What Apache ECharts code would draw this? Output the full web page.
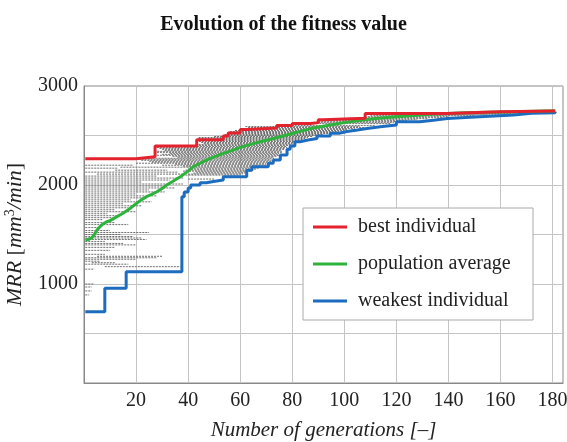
<!DOCTYPE html>
<html>
<head>
<meta charset="utf-8">
<script src="https://cdn.jsdelivr.net/npm/echarts@6/dist/echarts.min.js"></script>
<style>html,body{margin:0;padding:0;background:#fff}#c{width:567px;height:442px}</style>
</head>
<body>
<div id="c"></div>
<script>
const titleText = 'Evolution of the fitness value';
const seriesNames = ['best individual', 'population average', 'weakest individual'];
const xTicks = [20, 40, 60, 80, 100, 120, 140, 160, 180];
const yTicks = [1000, 2000, 3000];

// best individual (step changes: [generation, MRR])
const bestIndividual = [[0.5,2265],[20,2285],[27.3,2395],[43.3,2458],[53.5,2495],[55.4,2525],[60,2560],[63,2575],[74,2600],[80,2622],[87,2630],[90,2660],[92,2675],[108,2722],[139.5,2740],[160,2748],[181,2752]];
// population average
const populationAverage = [[0.5,1444],[2,1452],[3,1465],[4,1500],[5,1545],[6,1575],[7,1600],[8.7,1629],[10,1640],[12,1670],[15,1714],[17,1750],[19,1790],[20.2,1815],[22,1850],[24,1882],[26,1905],[28,1932],[30,1965],[31.8,2000],[34,2035],[37,2084],[40,2140],[42,2185],[45,2225],[47,2252],[50,2285],[53.6,2320],[57,2350],[60,2380],[64,2410],[67.7,2437],[72,2465],[75.4,2488],[80,2520],[83,2542],[88,2575],[94.6,2606],[100,2630],[107,2657],[113,2675],[120,2690],[127,2703],[133,2714],[140,2722],[146,2730],[155,2735],[165,2740],[173,2745],[181,2750]];
// weakest individual
const weakestIndividual = [[0.5,720],[8,956],[16.2,1124],[37.6,1882],[38.5,1930],[40,1970],[41,2000],[44.6,2023],[47,2035],[49.7,2050],[53.5,2084],[62.5,2150],[64.5,2185],[70.8,2220],[72.7,2252],[75.4,2303],[78,2360],[79.2,2395],[81,2437],[83,2454],[86,2470],[89.5,2495],[94.6,2522],[98,2540],[101,2555],[105,2570],[108.7,2589],[113.8,2606],[120,2640],[129,2657],[135,2672],[139.5,2690],[152,2707],[165,2724],[172,2730],[181,2740]];

// individuals of the population: [MRR, first generation, last generation]
const populationSegments = [
  [2745,160,181],[2738,150,178],[2730,140,172],[2722,130,166],[2715,115,160],[2708,112,155],[2700,110,150],[2690,109,140],
  [2680,108,138],[2670,100,132],[2660,92,128],[2650,91,124],[2640,90,120],[2630,84,119],[2620,80,118],
  [2600,74,112],[2590,62,106],[2580,63,108],[2570,61,104],[2560,60,101],[2550,58,100],[2540,56,98],[2530,55,96],
  [2520,55,94],[2510,54,92],[2500,54,90],[2490,50,88],[2480,44,86],[2470,44,85],[2460,44,84],[2450,44,83],
  [2440,43,81],[2430,45,81],[2420,46,80],[2410,44,80],[2400,43,79],[2390,40,78],[2380,28,78],[2370,29,77],
  [2360,30,77],[2350,31,76],[2340,27,76],[2330,28,76],[2320,33,75],[2310,30,75],[2300,28,75],[2290,34,74],
  [2280,36,73],[2270,24,73],[2260,21,72],[2250,22,72],[2240,25,72],[2230,26,71],[2220,20,70],[2210,35,70],
  [2200,30,70],[2200,0.5,19],[2190,38,69],[2180,14,68],[2170,0.5,13],[2170,41,67],[2160,40,66],[2150,12,32],
  [2150,39,65],[2140,38,64],[2130,0.5,36],[2130,43,63],[2120,42,62],[2110,5,38],[2110,40,61],[2100,39,60],
  [2090,0.5,28],[2070,0.5,38],[2060,40,50],[2050,0.5,33],[2030,0.5,22],[2010,0.5,38],[1990,0.5,30],[1970,0.5,35],
  [1950,0.5,25],[1930,0.5,31],[1910,0.5,20],[1890,0.5,28],[1870,0.5,24],[1850,0.5,18],[1830,0.5,26],[1810,0.5,15],
  [1790,0.5,22],[1770,0.5,17],[1750,0.5,12],[1730,0.5,20],[1710,0.5,9],[1690,0.5,14],[1670,0.5,11],[1650,0.5,7],
  [1620,0.5,12],[1600,0.5,17],[1570,0.5,6],[1540,0.5,10],[1520,0.5,25],[1500,0.5,14],[1480,0.5,19],[1465,0.5,22],
  [1450,3,24],[1430,0.5,8],[1410,0.5,15],[1395,0.5,20],[1370,0.5,12],[1340,0.5,10],[1300,0.5,8],[1280,5,30],
  [1265,0.5,28],[1250,0.5,20],[1230,0.5,6],[1215,3,12],[1200,0.5,17],[1175,8,37],[1150,0.5,4],
  [1000,0.5,4],[970,0.5,3],[930,0.5,3],[890,0.5,2]
];

const segData = [];
populationSegments.forEach(s => { segData.push([s[1], s[0]], [s[2], s[0]], ['-', '-']); });

const serif = 'Liberation Serif';
const lineIcon = 'path://M0,0L34,0L34,3L0,3Z';
const chart = echarts.init(document.getElementById('c'), null, {renderer: 'canvas'});
chart.setOption({
  animation: false,
  backgroundColor: '#fff',
  title: {
    text: titleText, left: 'center', top: 10,
    textStyle: {fontFamily: serif, fontSize: 20, fontWeight: 'bold', color: '#111'}
  },
  grid: {left: 84, top: 86, right: 4, bottom: 59, show: true, borderColor: '#888', borderWidth: 1,
         backgroundColor: 'transparent', outerBoundsMode: 'none', containLabel: false},
  legend: {
    orient: 'vertical', left: 303, top: 208,
    padding: [8, 10, 8, 10],
    backgroundColor: '#fff', borderColor: '#aaa', borderWidth: 1, borderRadius: 0,
    itemWidth: 34, itemHeight: 14, itemGap: 15,
    data: [
      {name: seriesNames[0], icon: lineIcon},
      {name: seriesNames[1], icon: lineIcon},
      {name: seriesNames[2], icon: lineIcon}
    ],
    textStyle: {fontFamily: serif, fontSize: 20, color: '#222', lineHeight: 22, width: 165, padding: [0, 0, 0, 6]}
  },
  xAxis: {
    type: 'value', min: 0, max: 184, interval: 20,
    name: 'Number of generations [–]',
    nameLocation: 'middle', nameGap: 37,
    nameTextStyle: {fontFamily: serif, fontSize: 21, fontStyle: 'italic', color: '#222'},
    axisLine: {show: true, lineStyle: {color: '#888'}},
    axisTick: {show: false},
    axisLabel: {
      fontFamily: serif, fontSize: 20, color: '#222', margin: 8,
      formatter: v => xTicks.indexOf(v) >= 0 ? String(v) : ''
    },
    splitLine: {show: true, lineStyle: {color: '#c4c4c4', width: 1}}
  },
  yAxis: {
    type: 'value', min: 0, max: 3000, interval: 500,
    name: '{i|MRR} [{i|mm}{s|3}{i|/min}]',
    nameLocation: 'middle', nameGap: 57, nameRotate: 90,
    nameTextStyle: {
      fontFamily: serif, fontSize: 22, color: '#222',
      rich: {
        i: {fontFamily: serif, fontSize: 22, fontStyle: 'italic', color: '#222'},
        s: {fontFamily: serif, fontSize: 14, color: '#222', padding: [0, 0, 10, 0]}
      }
    },
    axisLine: {show: true, lineStyle: {color: '#888'}},
    axisTick: {show: false},
    axisLabel: {
      fontFamily: serif, fontSize: 20, color: '#222', margin: 6,
      formatter: v => yTicks.indexOf(v) >= 0 ? String(v) : ''
    },
    splitLine: {show: true, lineStyle: {color: '#c4c4c4', width: 1}}
  },
  series: [
    {
      name: 'population', type: 'line', data: segData, symbol: 'none', connectNulls: false,
      lineStyle: {color: '#6e6e6e', width: 1, type: [2, 1]}, silent: true, z: 1
    },
    {
      name: seriesNames[2], type: 'line', step: 'end', data: weakestIndividual, symbol: 'none',
      color: '#1c6cbf', lineStyle: {color: '#1c6cbf', width: 3}, z: 3
    },
    {
      name: seriesNames[1], type: 'line', data: populationAverage, symbol: 'none',
      color: '#2db33c', lineStyle: {color: '#2db33c', width: 3}, z: 4
    },
    {
      name: seriesNames[0], type: 'line', step: 'end', data: bestIndividual, symbol: 'none',
      color: '#e3222e', lineStyle: {color: '#e3222e', width: 3}, z: 5
    }
  ]
});
</script>
</body>
</html>
